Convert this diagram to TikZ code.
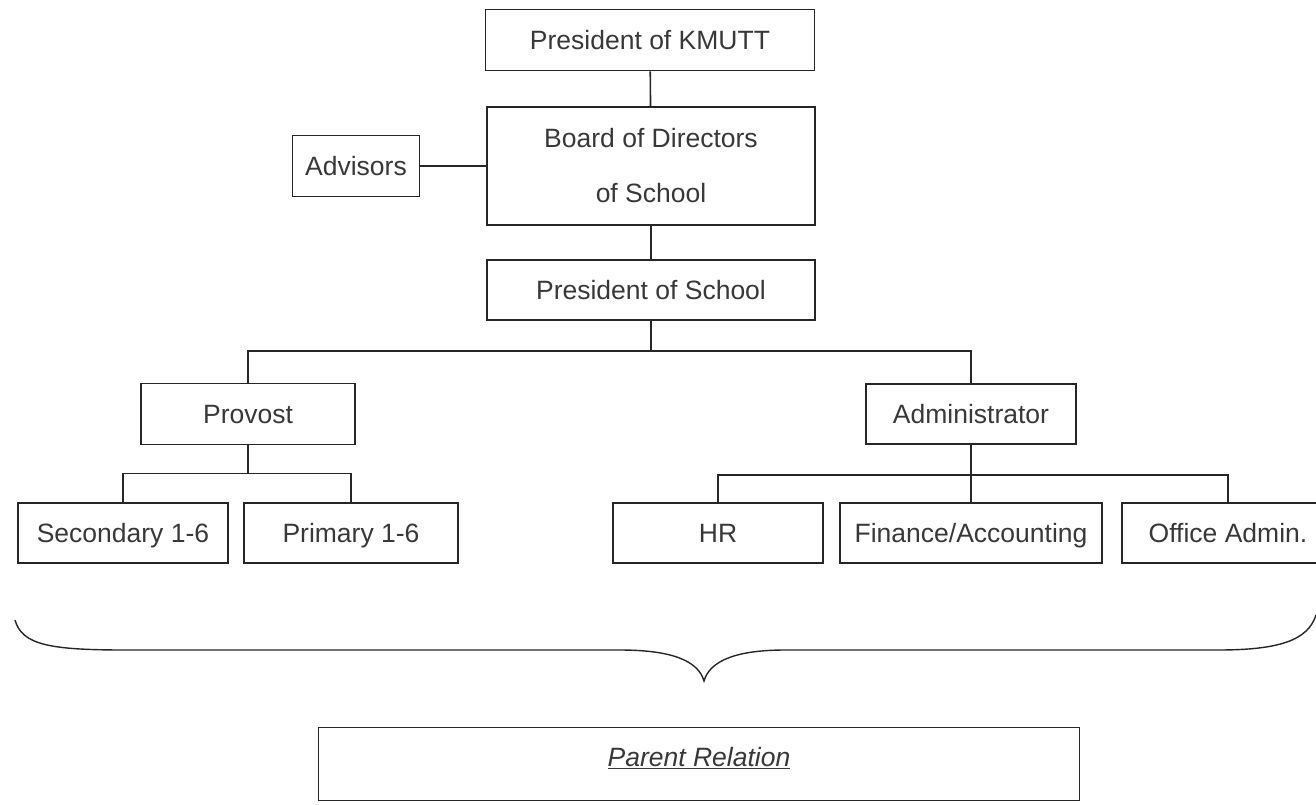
\documentclass[tikz,border=0pt]{standalone}
\usepackage{fontspec}
\setmainfont{Liberation Sans}
\begin{document}
\begin{tikzpicture}[x=1pt,y=-1pt,line width=1.6pt,draw=black!85,
  unit/.style={draw,rectangle,minimum height=60,inner sep=2pt,text=black!78,
    font=\fontsize{26.5}{30}\selectfont,align=center,text height=21pt,text depth=3pt}]
   \useasboundingbox (0,0) rectangle (1316,804);
   \node[unit,minimum width=329,minimum height=61] (kmutt) at (650,40) {President of KMUTT};
   \node[unit,minimum width=328,minimum height=118,text height=,text depth=] (board) at (651,166) {Board of Directors\\[25pt]of School};
   \node[unit,minimum width=127,minimum height=61] (advisors) at (356,166) {Advisors};
   \node[unit,minimum width=328] (pschool) at (651,290) {President of School};
   \node[unit,minimum width=214,minimum height=61] (provost) at (248,414) {Provost};
   \node[unit,minimum width=210] (admin) at (971,414) {Administrator};
   \foreach \n/\x/\w/\t in
     {sec/123/210/{Secondary 1-6},
      prim/351/214/{Primary 1-6},
      hr/718/210/{HR},
      fin/971/262/{Finance/Accounting},
      office/1228/212/{Office Admin.}}
     \node[unit,minimum width=\w] (\n) at (\x,533) {\t};
   \node[unit,minimum width=761,minimum height=73,text height=19pt,text depth=14pt] (parent) at (699,764)
     {\underline{\textit{Parent Relation}}};
   \draw (kmutt) -- (board);
   \draw (advisors) -- (board);
   \draw (board) -- (pschool);
   \draw (pschool.south) -- ++(0,30) coordinate (top) -| (provost.north);
   \draw (top) -| (admin.north);
   \draw (provost.south) -- ++(0,28) coordinate (pbar) -| (sec.north);
   \draw (pbar) -| (prim.north);
   \draw (admin.south) -- ++(0,30) coordinate (abar) -| (hr.north);
   \draw (abar) -| (office.north);
   \draw (abar) -- (fin.north);
   \draw[line width=1.4pt] (15,620) .. controls (22,645) and (50,650) .. (126,650) -- (620,650)
     .. controls (670,650) and (698,660) .. (704,681)
     .. controls (710,660) and (738,650) .. (785,650) -- (1218,650)
     .. controls (1280,650) and (1308,640) .. (1316,615);
\end{tikzpicture}
\end{document}
